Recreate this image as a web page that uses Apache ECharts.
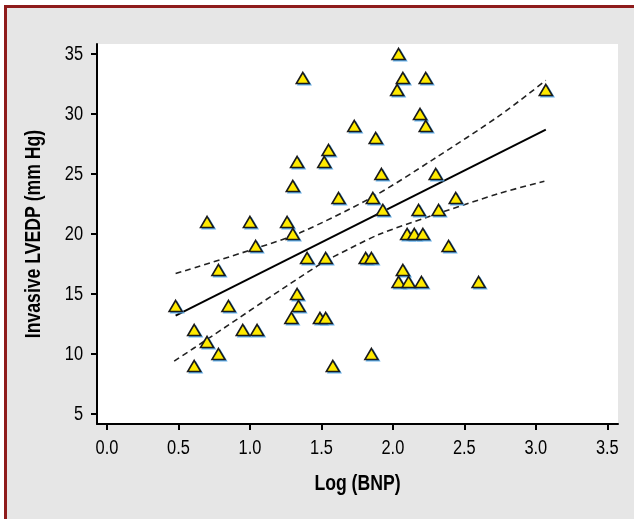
<!DOCTYPE html>
<html>
<head>
<meta charset="utf-8">
<script src="https://cdn.jsdelivr.net/npm/echarts@6/dist/echarts.min.js"></script>
<style>
html,body{margin:0;padding:0;background:#ffffff;width:634px;height:519px;overflow:hidden;}
#frame{position:absolute;left:4px;top:5px;width:627px;height:511px;background:#e6e6e6;border-left:3px solid #8e1b1b;border-top:3px solid #8e1b1b;}
#chart{position:absolute;left:0;top:0;width:634px;height:519px;}
</style>
</head>
<body>
<div id="frame"></div>
<div id="chart"></div>
<script>
// Scatter data: Log(BNP) vs invasive LVEDP
const logBNP = [1.37,1.73,1.55,1.33,1.52,1.30,1.62,0.70,1.00,1.26,
                2.04,2.07,2.23,2.03,3.07,2.19,2.23,1.88,1.92,2.30,
                1.86,2.44,1.93,2.18,2.32,1.30,1.04,1.40,1.53,1.81,
                1.85,0.78,1.33,0.48,0.85,1.34,0.61,0.95,1.05,1.29,
                1.49,1.53,0.70,0.78,0.61,1.58,2.10,2.15,2.21,2.39,
                2.07,2.04,2.11,2.20,2.60,1.85];
const lvedp  = [33,29,27,26,26,24,23,21,21,21,
                35,33,33,32,32,30,29,28,25,25,
                23,23,22,22,22,20,19,18,18,18,
                18,17,15,14,14,14,12,12,12,13,
                13,13,11,10,9,9,20,20,20,19,
                17,16,16,16,16,10];
// Regression line (read from endpoints)
const fitX = [0.48, 3.07];
const fitY = [13.2, 28.7];
// Confidence band
const upperX = [0.48,1.04,1.35,1.86,2.28,2.75,3.07];
const upperY = [16.7,18.8,20.1,23.1,26.2,29.9,32.8];
const lowerX = [0.47,0.71,1.48,1.70,1.91,2.24,2.75,3.06];
const lowerY = [9.4,11.3,17.4,18.8,20.0,21.4,23.4,24.4];
// Tick labels
const xTicks = [0,0.5,1.0,1.5,2.0,2.5,3.0,3.5];
const yTicks = [5,10,15,20,25,30,35];
const xTitle = 'Log (BNP)';
const yTitle = 'Invasive LVEDP (mm Hg)';

const zip = (a,b) => a.map((v,i) => [v,b[i]]);
const FONT = "'Liberation Sans', Arial, sans-serif";
const NARROW = 0.82;
const X_MIN = -0.07, X_MAX = 3.575, Y_MIN = 4.1667, Y_MAX = 35.8333;

const chart = echarts.init(document.getElementById('chart'), null, {renderer:'canvas'});
chart.setOption({
  backgroundColor: 'transparent',
  animation: false,
  grid: {left: 97, right: 16, top: 44, bottom: 95, show: true, backgroundColor: '#ffffff', borderWidth: 0},
  xAxis: {
    type: 'value', min: X_MIN, max: X_MAX,
    axisLine: {show: true, onZero: false, lineStyle: {color: '#000', width: 2}},
    axisTick: {show: true, length: 6, lineStyle: {color: '#000', width: 2}, customValues: xTicks},
    axisLabel: {show: false, customValues: xTicks},
    splitLine: {show: false}
  },
  yAxis: {
    type: 'value', min: Y_MIN, max: Y_MAX,
    axisLine: {show: true, onZero: false, lineStyle: {color: '#000', width: 2}},
    axisTick: {show: true, length: 6, lineStyle: {color: '#000', width: 2}, customValues: yTicks},
    axisLabel: {show: false, customValues: yTicks},
    splitLine: {show: false}
  },
  series: [
    {type: 'line', data: zip(upperX, upperY), showSymbol: false, smooth: 0.3, z: 2,
     lineStyle: {color: '#222', width: 1.6, type: [6,4]}},
    {type: 'line', data: zip(lowerX, lowerY), showSymbol: false, smooth: 0.3, z: 2,
     lineStyle: {color: '#222', width: 1.6, type: [6,4]}},
    {type: 'line', data: zip(fitX, fitY), showSymbol: false, z: 2,
     lineStyle: {color: '#000', width: 2}},
    // blue drop shadow of the triangles
    {type: 'scatter', data: zip(logBNP, lvedp), symbol: 'triangle', symbolSize: [13, 11], z: 4,
     symbolOffset: [1.6, 1.4], silent: true,
     itemStyle: {color: '#58a8e8', borderColor: '#58a8e8', borderWidth: 1.2, opacity: 0.9}},
    {type: 'scatter', data: zip(logBNP, lvedp), symbol: 'triangle', symbolSize: [13, 11], z: 5,
     itemStyle: {color: '#ffea00', borderColor: '#1a1a1a', borderWidth: 1.6, opacity: 1}}
  ]
});

// Condensed (narrow) text labels drawn through the axis scales
const px = v => chart.convertToPixel({xAxisIndex: 0}, v);
const py = v => chart.convertToPixel({yAxisIndex: 0}, v);
const axisX = px(X_MIN), axisY = py(Y_MIN);
const g = [];
xTicks.forEach(v => g.push({type: 'text', x: px(v), y: axisY + 24.5, scaleX: NARROW, silent: true,
  style: {text: v.toFixed(1), font: "20px " + FONT, fill: '#000', align: 'center', verticalAlign: 'middle'}}));
yTicks.forEach(v => g.push({type: 'text', x: axisX - 14, y: py(v), scaleX: NARROW, silent: true,
  style: {text: String(v), font: "20px " + FONT, fill: '#000', align: 'right', verticalAlign: 'middle'}}));
g.push({type: 'text', x: (px(X_MIN) + px(X_MAX)) / 2, y: axisY + 60, scaleX: NARROW, silent: true,
  style: {text: xTitle, font: "bold 21.5px " + FONT, fill: '#000', align: 'center', verticalAlign: 'middle'}});
g.push({type: 'text', x: axisX - 63, y: (py(Y_MIN) + py(Y_MAX)) / 2, rotation: Math.PI / 2, scaleX: NARROW, silent: true,
  style: {text: yTitle, font: "bold 21.5px " + FONT, fill: '#000', align: 'center', verticalAlign: 'middle'}});
chart.setOption({graphic: {elements: g}});
</script>
</body>
</html>
